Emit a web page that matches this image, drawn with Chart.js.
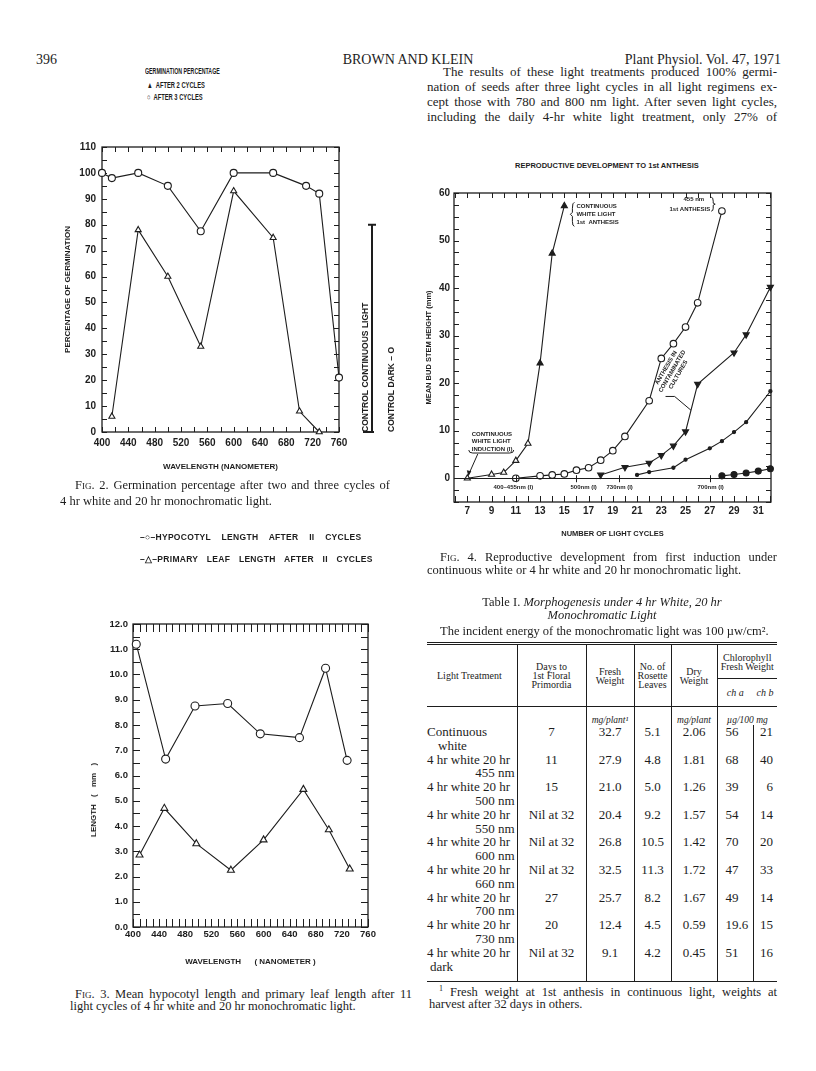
<!DOCTYPE html>
<html>
<head>
<meta charset="utf-8">
<title>Brown and Klein 1971, p. 396</title>
<script src="https://cdn.jsdelivr.net/npm/chart.js@4.4.1/dist/chart.umd.min.js"></script>
<style>
  body { margin: 0; background: #fff; }
  #page { position: relative; width: 816px; height: 1071px; overflow: hidden; background: #fff; color: #1d1d1d;
          font-family: "Liberation Serif", "DejaVu Serif", serif; }
  .t { position: absolute; white-space: nowrap; line-height: 1; }
  .j { position: absolute; white-space: nowrap; line-height: 1; text-align: justify; text-align-last: justify; }
  .sans { font-family: "Liberation Sans", Arial, sans-serif; font-weight: bold; }
  .narrow { transform-origin: 0 0; }
  .sc { font-variant: small-caps; }
  canvas { position: absolute; }
  #tbl { position: absolute; left: 427px; top: 642px; width: 350px; border-collapse: collapse; table-layout: fixed;
         border-top: 3px double #1d1d1d; border-bottom: 1px solid #1d1d1d; }
  #tbl td, #tbl th { padding: 0; font-weight: normal; vertical-align: middle; }
  #tbl th { font-size: 10px; line-height: 9px; text-align: center; }
  #tbl .vr { border-right: 1px solid #1d1d1d; }
  #tbl .hb { border-bottom: 1px solid #1d1d1d; }
  #tbl .unit { font-size: 9.5px; font-style: italic; height: 18px; text-align: center; vertical-align: bottom; }
  #tbl td.d { font-size: 13px; line-height: 13.8px; height: 27.6px; vertical-align: top; text-align: center; }
</style>
</head>
<body>
<div id="page">
  <!-- running head -->
  <div class="t" style="left:36px;top:53px;font-size:14px;">396</div>
  <div class="t" style="left:0;width:816px;text-align:center;top:53px;font-size:14px;">BROWN AND KLEIN</div>
  <div class="t" style="right:35px;top:53px;font-size:14px;">Plant Physiol. Vol. 47, 1971</div>

  <!-- body text -->
  <div class="j" style="left:443px;width:334px;top:65px;font-size:13px;">The results of these light treatments produced 100% germi-</div>
  <div class="j" style="left:427px;width:350px;top:80px;font-size:13px;">nation of seeds after three light cycles in all light regimens ex-</div>
  <div class="j" style="left:427px;width:350px;top:95px;font-size:13px;">cept those with 780 and 800 nm light. After seven light cycles,</div>
  <div class="j" style="left:427px;width:350px;top:110px;font-size:13px;">including the daily 4-hr white light treatment, only 27% of</div>

  <!-- Fig. 2 legend -->
  <div class="t sans narrow" style="left:145px;top:67px;font-size:8.5px;transform:scaleX(0.62);">GERMINATION PERCENTAGE</div>
  <div class="t sans narrow" style="left:147px;top:81px;font-size:8.5px;transform:scaleX(0.68);">&#9650;&nbsp; AFTER 2 CYCLES</div>
  <div class="t sans narrow" style="left:147px;top:93px;font-size:8.5px;transform:scaleX(0.68);">&#9675;&nbsp; AFTER 3 CYCLES</div>

  <canvas id="fig2" width="380" height="350" style="left:40px;top:130px;width:380px;height:350px;"></canvas>

  <div class="j" style="left:75px;width:315px;top:479px;font-size:12.5px;"><span class="sc">Fig.</span> 2. Germination percentage after two and three cycles of</div>
  <div class="t" style="left:60px;top:495px;font-size:12.5px;">4 hr white and 20 hr monochromatic light.</div>

  <!-- Fig. 3 legend -->
  <div class="t sans" style="left:140px;top:533px;font-size:8.5px;word-spacing:8px;letter-spacing:0.3px;">&#8211;&#9675;&#8211;HYPOCOTYL LENGTH AFTER II CYCLES</div>
  <div class="t sans" style="left:140px;top:555px;font-size:8.5px;word-spacing:6px;letter-spacing:0.3px;">&#8211;&#9651;&#8211;PRIMARY LEAF LENGTH AFTER II CYCLES</div>

  <canvas id="fig3" width="330" height="370" style="left:60px;top:605px;width:330px;height:370px;"></canvas>
  <div class="t sans" style="left:94px;top:800px;font-size:8px;transform:translate(-50%,-50%) rotate(-90deg);transform-origin:50% 50%;word-spacing:5px;">LENGTH ( mm )</div>

  <div class="j" style="left:75px;width:337px;top:988px;font-size:12.5px;"><span class="sc">Fig.</span> 3. Mean hypocotyl length and primary leaf length after 11</div>
  <div class="t" style="left:70px;top:1000px;font-size:12.5px;">light cycles of 4 hr white and 20 hr monochromatic light.</div>

  <!-- Fig. 4 -->
  <div class="t sans" style="left:515px;top:162px;font-size:7.5px;">REPRODUCTIVE DEVELOPMENT TO 1st ANTHESIS</div>
  <canvas id="fig4" width="380" height="370" style="left:410px;top:175px;width:380px;height:370px;"></canvas>

  <div class="j" style="left:440px;width:337px;top:551px;font-size:12.5px;"><span class="sc">Fig.</span> 4. Reproductive development from first induction under</div>
  <div class="t" style="left:427px;top:564px;font-size:12.5px;">continuous white or 4 hr white and 20 hr monochromatic light.</div>

  <!-- Table I -->
  <div class="t" style="left:0;width:1204px;text-align:center;top:596px;font-size:12.5px;">Table I. <i>Morphogenesis under 4 hr White, 20 hr</i></div>
  <div class="t" style="left:0;width:1204px;text-align:center;top:609px;font-size:12.5px;"><i>Monochromatic Light</i></div>
  <div class="t" style="left:440px;top:625px;font-size:12.5px;">The incident energy of the monochromatic light was 100 &micro;w/cm&sup2;.</div>

  <table id="tbl">
    <colgroup>
      <col style="width:90px"><col style="width:69px"><col style="width:48px"><col style="width:37px">
      <col style="width:46px"><col style="width:36px"><col style="width:24px">
    </colgroup>
    <thead>
      <tr style="height:35px">
        <th rowspan="2" class="vr hb" style="text-align:left;padding-left:10px;">Light Treatment</th>
        <th rowspan="2" class="vr hb">Days to<br>1st Floral<br>Primordia</th>
        <th rowspan="2" class="vr hb">Fresh<br>Weight</th>
        <th rowspan="2" class="vr hb">No. of<br>Rosette<br>Leaves</th>
        <th rowspan="2" class="vr hb">Dry<br>Weight</th>
        <th colspan="2" class="hb" style="vertical-align:top;padding-top:8px;">Chlorophyll<br>Fresh Weight</th>
      </tr>
      <tr style="height:28px">
        <th class="hb" style="font-style:italic;">ch a</th>
        <th class="hb" style="font-style:italic;">ch b</th>
      </tr>
      <tr>
        <td class="unit vr"></td>
        <td class="unit vr"></td>
        <td class="unit vr">mg/plant&sup1;</td>
        <td class="unit vr"></td>
        <td class="unit vr">mg/plant</td>
        <td class="unit" colspan="2">&micro;g/100 mg</td>
      </tr>
    </thead>
    <tbody id="tbody"></tbody>
  </table>

  <div class="j" style="left:439px;width:338px;top:985px;font-size:12.5px;"><sup style="font-size:8px;">1</sup> Fresh weight at 1st anthesis in continuous light, weights at</div>
  <div class="t" style="left:429px;top:998px;font-size:12.5px;">harvest after 32 days in others.</div>
</div>

<script>
// ---------- Fig. 2: germination percentage ----------
const fig2Wave3 = [400, 415, 455, 500, 550, 600, 660, 710, 730, 760];
const fig2After3 = [100, 98, 100, 95, 77.5, 100, 100, 95, 92, 21];
const fig2Wave2 = [415, 455, 500, 550, 600, 660, 700, 730];
const fig2After2 = [6, 78, 60, 33, 93, 75, 8, 0];
const fig2ControlLight = 80;
const fig2XTicks = [400, 440, 480, 520, 560, 600, 640, 680, 720, 760];
const fig2YTicks = [0, 10, 20, 30, 40, 50, 60, 70, 80, 90, 100, 110];

// ---------- Fig. 3: hypocotyl and primary leaf length ----------
const fig3HypoWave = [405, 450, 495, 545, 595, 655, 695, 728];
const fig3Hypo = [11.2, 6.65, 8.75, 8.85, 7.65, 7.5, 10.25, 6.6];
const fig3LeafWave = [410, 448, 497, 550, 600, 661, 700, 732];
const fig3Leaf = [2.85, 4.7, 3.3, 2.25, 3.45, 5.45, 3.85, 2.3];
const fig3XTicks = [400, 440, 480, 520, 560, 600, 640, 680, 720, 760];
const fig3YTicks = [0, 1, 2, 3, 4, 5, 6, 7, 8, 9, 10, 11, 12];

// ---------- Fig. 4: bud stem height vs light cycles ----------
const fig4WhiteCycle = [7, 9, 10, 11, 12, 13, 14, 15];
const fig4White = [0, 0.8, 1.2, 3.7, 7.3, 24.2, 47.3, 57.3];
const fig4Nm455Cycle = [11, 13, 14, 15, 16, 17, 18, 19, 20, 22, 23, 24, 25, 26, 28];
const fig4Nm455 = [0, 0.5, 0.7, 0.9, 1.7, 2.2, 3.8, 5.8, 8.8, 16.3, 25.2, 28.3, 31.8, 36.9, 56.2];
const fig4Nm500Cycle = [18, 20, 22, 23, 24, 25, 26, 29, 30, 32];
const fig4Nm500 = [0.7, 2.3, 3.2, 4.8, 6.8, 9.8, 19.8, 26.4, 30.2, 40.2];
const fig4Nm730Cycle = [21, 22, 24, 25, 27, 28, 29, 30, 32];
const fig4Nm730 = [0.7, 1.3, 2.2, 3.9, 6.3, 7.8, 9.7, 11.8, 18.3];
const fig4Nm700Cycle = [28, 29, 30, 31, 32];
const fig4Nm700 = [0.5, 0.8, 1.1, 1.5, 2.0];
const fig4Inductions = [
  { cycle: 11, label: '400\u2013455nm (I)' },
  { cycle: 16, label: '500nm (I)' },
  { cycle: 19.5, label: '730nm (I)' },
  { cycle: 27, label: '700nm (I)' }
];
const fig4XTicks = [7, 9, 11, 13, 15, 17, 19, 21, 23, 25, 27, 29, 31];
const fig4YTicks = [0, 10, 20, 30, 40, 50, 60];

// ---------- Table I ----------
const lightTreatment = ['Continuous', '4 hr white 20 hr', '4 hr white 20 hr', '4 hr white 20 hr', '4 hr white 20 hr',
  '4 hr white 20 hr', '4 hr white 20 hr', '4 hr white 20 hr', '4 hr white 20 hr'];
const lightSub = ['white', '455 nm', '500 nm', '550 nm', '600 nm', '660 nm', '700 nm', '730 nm', 'dark'];
const daysToPrimordia = ['7', '11', '15', 'Nil at 32', 'Nil at 32', 'Nil at 32', '27', '20', 'Nil at 32'];
const freshWeight = ['32.7', '27.9', '21.0', '20.4', '26.8', '32.5', '25.7', '12.4', '9.1'];
const rosetteLeaves = ['5.1', '4.8', '5.0', '9.2', '10.5', '11.3', '8.2', '4.5', '4.2'];
const dryWeight = ['2.06', '1.81', '1.26', '1.57', '1.42', '1.72', '1.67', '0.59', '0.45'];
const chlA = ['56', '68', '39', '54', '70', '47', '49', '19.6', '51'];
const chlB = ['21', '40', '6', '14', '20', '33', '14', '15', '16'];

const ink = '#1d1d1d';
const sans = '"Liberation Sans", Arial, sans-serif';

function pts(xs, ys) {
  return xs.map((x, i) => ({ x, y: ys[i] }));
}

// frame + inward tick marks on all four sides
const paperAxes = {
  id: 'paperAxes',
  beforeDatasetsDraw(chart, args, opts) {
    const { ctx, chartArea: a, scales: { x, y } } = chart;
    ctx.save();
    ctx.strokeStyle = ink;
    ctx.lineWidth = 1.3;
    ctx.strokeRect(a.left, a.top, a.right - a.left, a.bottom - a.top);
    ctx.lineWidth = 1;
    (opts.marks || []).forEach(m => {
      const n = Math.round((m.to - m.from) / m.step);
      for (let i = 0; i <= n; i++) {
        const v = m.from + i * m.step;
        ctx.beginPath();
        if (m.axis === 'x') {
          const px = Math.round(x.getPixelForValue(v)) + 0.5;
          if (m.side === 'bottom') { ctx.moveTo(px, a.bottom); ctx.lineTo(px, a.bottom - m.len); }
          else { ctx.moveTo(px, a.top); ctx.lineTo(px, a.top + m.len); }
        } else {
          const py = Math.round(y.getPixelForValue(v)) + 0.5;
          if (m.side === 'left') { ctx.moveTo(a.left, py); ctx.lineTo(a.left + m.len, py); }
          else { ctx.moveTo(a.right, py); ctx.lineTo(a.right - m.len, py); }
        }
        ctx.stroke();
      }
    });
    ctx.restore();
  }
};

function lineSet(data, style) {
  return Object.assign({
    data,
    borderColor: ink,
    borderWidth: 1.1,
    tension: 0,
    fill: false,
    clip: false,
    pointStyle: 'circle',
    pointRadius: 3.5,
    pointBorderWidth: 1.1,
    pointBorderColor: ink,
    pointBackgroundColor: '#fff'
  }, style);
}

function makeChart(id, datasets, cfg) {
  return new Chart(document.getElementById(id), {
    type: 'line',
    data: { datasets },
    options: {
      responsive: false,
      animation: false,
      devicePixelRatio: 1,
      layout: { padding: { top: cfg.padTop, right: cfg.padRight, left: 0, bottom: 0 } },
      plugins: {
        legend: { display: false },
        tooltip: { enabled: false },
        paperAxes: { marks: cfg.marks }
      },
      scales: {
        x: {
          type: 'linear', min: cfg.xMin, max: cfg.xMax,
          afterFit: s => { s.height = cfg.xHeight; },
          afterBuildTicks: s => { s.ticks = cfg.xTicks.map(v => ({ value: v })); },
          grid: { display: false, drawTicks: false },
          border: { display: false },
          ticks: { color: ink, font: cfg.tickFont, padding: cfg.xPad, maxRotation: 0, autoSkip: false,
                   callback: cfg.xFormat || (v => String(v)) },
          title: cfg.xTitle
        },
        y: {
          type: 'linear', min: cfg.yMin, max: cfg.yMax,
          afterFit: s => { s.width = cfg.yWidth; },
          afterBuildTicks: s => { s.ticks = cfg.yTicks.map(v => ({ value: v })); },
          grid: { display: false, drawTicks: false },
          border: { display: false },
          ticks: { color: ink, font: cfg.tickFont, padding: cfg.yPad, autoSkip: false,
                   callback: cfg.yFormat || (v => String(v)) },
          title: cfg.yTitle
        }
      }
    },
    plugins: [paperAxes].concat(cfg.extra || [])
  });
}

// ---------- Fig. 2 ----------
const controlBar = {
  id: 'controlBar',
  afterDraw(chart) {
    const { ctx, chartArea: a, scales: { y } } = chart;
    const x0 = a.right + 33;
    const yTop = y.getPixelForValue(fig2ControlLight);
    const yBot = y.getPixelForValue(0);
    ctx.save();
    ctx.strokeStyle = ink;
    ctx.fillStyle = ink;
    ctx.lineWidth = 2;
    ctx.beginPath();
    ctx.moveTo(x0, yTop); ctx.lineTo(x0, yBot);
    ctx.moveTo(x0 - 4, yTop); ctx.lineTo(x0 + 4, yTop);
    ctx.moveTo(x0 - 9, yBot); ctx.lineTo(x0 + 2, yBot);
    ctx.stroke();
    ctx.font = 'bold 8.5px ' + sans;
    ctx.textBaseline = 'bottom';
    ctx.textAlign = 'left';
    ctx.translate(x0 - 2, yBot);
    ctx.rotate(-Math.PI / 2);
    ctx.fillText('CONTROL CONTINUOUS LIGHT', 0, 0);
    ctx.fillText('CONTROL DARK \u2013 O', 0, 26);
    ctx.restore();
  }
};

makeChart('fig2', [
  lineSet(pts(fig2Wave3, fig2After3), { pointRadius: 3.5 }),
  lineSet(pts(fig2Wave2, fig2After2), { pointStyle: 'triangle', pointRadius: 3.5 })
], {
  padTop: 17, padRight: 81, yWidth: 62, xHeight: 48,
  xMin: 400, xMax: 760, yMin: 0, yMax: 110,
  xTicks: fig2XTicks, yTicks: fig2YTicks,
  tickFont: { family: sans, size: 10, weight: 'bold' },
  xPad: 5, yPad: 6,
  xTitle: { display: true, text: 'WAVELENGTH (NANOMETER)', color: ink,
            font: { family: sans, size: 8, weight: 'bold' }, padding: { top: 0, bottom: 8 } },
  yTitle: { display: true, text: 'PERCENTAGE OF GERMINATION', color: ink,
            font: { family: sans, size: 8, weight: 'bold' }, padding: { top: 23, bottom: 0 } },
  marks: [
    { axis: 'x', side: 'bottom', from: 400, to: 760, step: 20, len: 5 },
    { axis: 'x', side: 'top', from: 400, to: 760, step: 20, len: 5 },
    { axis: 'y', side: 'left', from: 0, to: 110, step: 5, len: 5 },
    { axis: 'y', side: 'right', from: 0, to: 110, step: 5, len: 5 }
  ],
  extra: [controlBar]
});

// ---------- Fig. 3 ----------
makeChart('fig3', [
  lineSet(pts(fig3HypoWave, fig3Hypo), { pointRadius: 4 }),
  lineSet(pts(fig3LeafWave, fig3Leaf), { pointStyle: 'triangle', pointRadius: 4 })
], {
  padTop: 19, padRight: 22, yWidth: 73, xHeight: 48,
  xMin: 400, xMax: 760, yMin: 0, yMax: 12,
  xTicks: fig3XTicks, yTicks: fig3YTicks,
  tickFont: { family: sans, size: 9.5, weight: 'bold' },
  xPad: 2, yPad: 5,
  yFormat: v => v.toFixed(1),
  xTitle: { display: true, text: 'WAVELENGTH      ( NANOMETER )', color: ink,
            font: { family: sans, size: 8, weight: 'bold' }, padding: { top: 0, bottom: 8 } },
  yTitle: { display: false },
  marks: [
    { axis: 'x', side: 'bottom', from: 400, to: 760, step: 10, len: 8 },
    { axis: 'x', side: 'top', from: 400, to: 760, step: 10, len: 8 },
    { axis: 'y', side: 'left', from: 0, to: 12, step: 0.5, len: 7 },
    { axis: 'y', side: 'right', from: 0, to: 12, step: 0.5, len: 7 }
  ]
});

// ---------- Fig. 4 ----------
const fig4Notes = {
  id: 'fig4Notes',
  afterDraw(chart) {
    const { ctx, chartArea: a, scales: { x, y } } = chart;
    const X = v => x.getPixelForValue(v);
    const Y = v => y.getPixelForValue(v);
    ctx.save();
    ctx.strokeStyle = ink;
    ctx.fillStyle = ink;
    ctx.lineWidth = 1;
    // zero line
    ctx.beginPath();
    ctx.moveTo(a.left, Math.round(Y(0)) + 0.5);
    ctx.lineTo(a.right, Math.round(Y(0)) + 0.5);
    ctx.stroke();
    // induction marks below the zero line
    ctx.font = 'bold 6px ' + sans;
    ctx.textBaseline = 'middle';
    const shift = [-23, -6, -13, -13];
    fig4Inductions.forEach((d, i) => {
      const px = Math.round(X(d.cycle)) + 0.5;
      ctx.beginPath();
      ctx.moveTo(px, Y(0) - 3); ctx.lineTo(px, Y(0) + 4);
      ctx.stroke();
      ctx.textAlign = 'left';
      ctx.fillText(d.label, px + shift[i], Y(0) + 9);
    });
    // continuous white light induction
    const ix = X(7.2), iy = Y(9.3);
    ctx.textAlign = 'left';
    ctx.fillText('CONTINUOUS', ix + 2, iy);
    ctx.fillText('WHITE LIGHT', ix + 2, iy + 7.5);
    ctx.fillText('INDUCTION (I)', ix + 2, iy + 15);
    ctx.beginPath();
    ctx.moveTo(ix - 1, iy + 16); ctx.quadraticCurveTo(ix - 1, iy + 19, ix + 3, iy + 19);
    ctx.lineTo(ix + 40, iy + 19); ctx.quadraticCurveTo(ix + 44, iy + 19, ix + 44, iy + 16);
    ctx.moveTo(ix + 8, iy + 20); ctx.lineTo(X(7) + 1, Y(0) - 3);
    ctx.stroke();
    // arrow head
    ctx.beginPath();
    ctx.moveTo(X(7) + 1, Y(0) - 2);
    ctx.lineTo(X(7) - 0.5, Y(0) - 8);
    ctx.lineTo(X(7) + 4, Y(0) - 7);
    ctx.closePath();
    ctx.fill();
    // continuous white 1st anthesis
    const wx = X(15.75), wy = Y(57.2);
    ctx.fillText('CONTINUOUS', wx + 3, wy);
    ctx.fillText('WHITE LIGHT', wx + 3, wy + 8);
    ctx.fillText('1st  ANTHESIS', wx + 3, wy + 16);
    ctx.beginPath();
    ctx.moveTo(wx + 1, wy - 4); ctx.quadraticCurveTo(wx - 1, wy - 4, wx - 1, wy + 2);
    ctx.lineTo(wx - 1, wy + 6); ctx.lineTo(wx - 3, wy + 8); ctx.lineTo(wx - 1, wy + 10);
    ctx.lineTo(wx - 1, wy + 15); ctx.quadraticCurveTo(wx - 1, wy + 20, wx + 1, wy + 20);
    ctx.stroke();
    // 455 nm 1st anthesis
    const nx = X(27.2), ny = Y(58.7);
    ctx.textAlign = 'right';
    ctx.fillText('455 nm', nx - 8, ny);
    ctx.fillText('1st ANTHESIS', nx - 2, ny + 10);
    ctx.beginPath();
    ctx.moveTo(nx - 1, ny - 2); ctx.quadraticCurveTo(nx + 1, ny - 2, nx + 1, ny + 2);
    ctx.lineTo(nx + 1, ny + 4); ctx.lineTo(nx + 3, ny + 5); ctx.lineTo(nx + 1, ny + 6);
    ctx.lineTo(nx + 1, ny + 9); ctx.quadraticCurveTo(nx + 1, ny + 12, nx - 1, ny + 12);
    ctx.stroke();
    // contaminated cultures
    ctx.save();
    ctx.translate(X(23.9), Y(22.5));
    ctx.rotate(-Math.PI / 3);
    ctx.textAlign = 'center';
    ctx.fillText('ANTHESIS IN', 0, -7);
    ctx.fillText('CONTAMINATED', 0, 0);
    ctx.fillText('CULTURES', 0, 7);
    ctx.restore();
    ctx.beginPath();
    ctx.moveTo(X(23.35), Y(17.2)); ctx.lineTo(X(24.1), Y(17.2));
    ctx.lineTo(X(25.45), Y(14.3));
    ctx.stroke();
    ctx.restore();
  }
};

makeChart('fig4', [
  lineSet(pts(fig4WhiteCycle, fig4White), {
    pointStyle: 'triangle', pointRadius: 3.5,
    pointBackgroundColor: c => (c.raw && c.raw.y > 20 ? ink : '#fff')
  }),
  lineSet(pts(fig4Nm455Cycle, fig4Nm455), { pointRadius: 3.3 }),
  lineSet(pts(fig4Nm500Cycle, fig4Nm500), { pointStyle: 'triangle', rotation: 180, pointRadius: 3.5, pointBackgroundColor: ink }),
  lineSet(pts(fig4Nm730Cycle, fig4Nm730), { pointRadius: 1.6, pointBackgroundColor: ink }),
  lineSet(pts(fig4Nm700Cycle, fig4Nm700), { pointRadius: 3, pointBackgroundColor: ink })
], {
  padTop: 18, padRight: 19, yWidth: 44, xHeight: 43,
  xMin: 5.9, xMax: 32.05, yMin: -5, yMax: 60,
  xTicks: fig4XTicks, yTicks: fig4YTicks,
  tickFont: { family: sans, size: 10, weight: 'bold' },
  xPad: 3, yPad: 4,
  xTitle: { display: true, text: 'NUMBER OF LIGHT CYCLES', color: ink,
            font: { family: sans, size: 7.5, weight: 'bold' }, padding: { top: 0, bottom: 7 } },
  yTitle: { display: true, text: 'MEAN BUD STEM HEIGHT (mm)', color: ink,
            font: { family: sans, size: 7.5, weight: 'bold' }, padding: { top: 14, bottom: 0 } },
  marks: [
    { axis: 'x', side: 'bottom', from: 6, to: 32, step: 1, len: 6 },
    { axis: 'x', side: 'top', from: 6, to: 32, step: 1, len: 5 },
    { axis: 'y', side: 'left', from: -5, to: 60, step: 2.5, len: 5 },
    { axis: 'y', side: 'right', from: -5, to: 60, step: 2.5, len: 5 }
  ],
  extra: [fig4Notes]
});

// ---------- Table I rows ----------
const tbody = document.getElementById('tbody');
lightTreatment.forEach((name, i) => {
  const tr = document.createElement('tr');
  const last = i === lightTreatment.length - 1;
  const subStyle = i === 0 ? 'padding-left:11px;text-align:left' : (last ? 'padding-left:3px;text-align:left' : 'text-align:right;padding-right:2px');
  const cells = [
    `<td class="d vr" style="text-align:left;"><div>${name}</div><div style="${subStyle}">${lightSub[i]}</div></td>`,
    `<td class="d vr">${daysToPrimordia[i]}</td>`,
    `<td class="d vr">${freshWeight[i]}</td>`,
    `<td class="d vr">${rosetteLeaves[i]}</td>`,
    `<td class="d vr">${dryWeight[i]}</td>`,
    `<td class="d vr" style="text-align:left;padding-left:8px;">${chlA[i]}</td>`,
    `<td class="d" style="text-align:right;padding-right:4px;">${chlB[i]}</td>`
  ];
  tr.innerHTML = cells.join('');
  if (last) tr.querySelectorAll('td').forEach(td => { td.style.height = '35px'; });
  tbody.appendChild(tr);
});
</script>
</body>
</html>
